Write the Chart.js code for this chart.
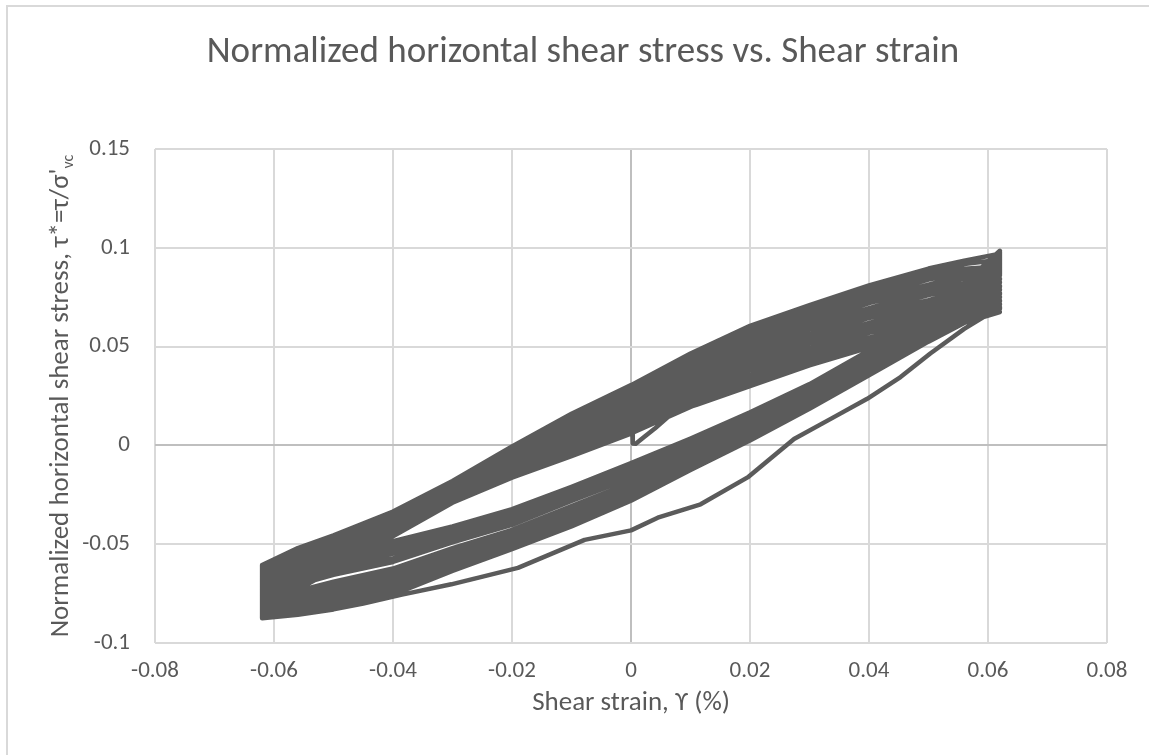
<!DOCTYPE html>
<html>
<head>
<meta charset="utf-8">
<title>Normalized horizontal shear stress vs. Shear strain</title>
<script src="https://cdn.jsdelivr.net/npm/chart.js@4.4.1/dist/chart.umd.min.js"></script>
<style>
  html, body { margin: 0; padding: 0; background: #fff; overflow: hidden; }
  #frame { position: absolute; left: 6px; top: 5px; width: 1200px; height: 800px; border: 2px solid #d9d9d9; }
  #wrap { position: absolute; left: 0; top: 0; width: 1149px; height: 755px; }
</style>
</head>
<body>
<div id="frame"></div>
<div id="wrap"><canvas id="loopChart"></canvas></div>
<script>
// strain stations used by the loading (left -> right) and unloading (right -> left) branches
const strainLoad = [-0.062, -0.056, -0.05, -0.04, -0.03, -0.02, -0.01, 0, 0.01, 0.02, 0.03, 0.04, 0.05, 0.056, 0.062];
const strainUnload = [0.062, 0.056, 0.05, 0.04, 0.03, 0.02, 0.01, 0, -0.01, -0.02, -0.03, -0.04, -0.05, -0.056, -0.062];

// unloading branches, in the order they were recorded
const unloadBranches = [
  [0.0675, 0.0630, 0.0580, 0.0510, 0.0420, 0.0323, 0.0195, 0.0060, -0.0055, -0.0163, -0.0290, -0.0460, -0.0630, -0.0730, -0.0835],
  [0.0690, 0.0650, 0.0598, 0.0531, 0.0437, 0.0342, 0.0211, 0.0077, -0.0043, -0.0152, -0.0285, -0.0451, -0.0621, -0.0716, -0.0820],
  [0.0712, 0.0665, 0.0622, 0.0545, 0.0459, 0.0355, 0.0232, 0.0088, -0.0025, -0.0146, -0.0273, -0.0447, -0.0605, -0.0707, -0.0805],
  [0.0728, 0.0690, 0.0636, 0.0570, 0.0472, 0.0379, 0.0243, 0.0109, -0.0012, -0.0137, -0.0268, -0.0440, -0.0594, -0.0694, -0.0790],
  [0.0749, 0.0709, 0.0656, 0.0588, 0.0490, 0.0397, 0.0260, 0.0124, -0.0004, -0.0121, -0.0266, -0.0426, -0.0589, -0.0675, -0.0775],
  [0.0765, 0.0722, 0.0682, 0.0601, 0.0514, 0.0409, 0.0283, 0.0134, 0.0016, -0.0117, -0.0253, -0.0424, -0.0572, -0.0668, -0.0760],
  [0.0786, 0.0741, 0.0701, 0.0620, 0.0532, 0.0426, 0.0299, 0.0149, 0.0029, -0.0107, -0.0246, -0.0416, -0.0561, -0.0654, -0.0745],
  [0.0802, 0.0767, 0.0715, 0.0645, 0.0544, 0.0450, 0.0310, 0.0171, 0.0037, -0.0097, -0.0240, -0.0409, -0.0551, -0.0641, -0.0733],
  [0.0823, 0.0786, 0.0735, 0.0663, 0.0562, 0.0467, 0.0327, 0.0186, 0.0050, -0.0081, -0.0238, -0.0395, -0.0546, -0.0622, -0.0720],
  [0.0840, 0.0799, 0.0761, 0.0676, 0.0586, 0.0479, 0.0350, 0.0195, 0.0069, -0.0077, -0.0225, -0.0393, -0.0529, -0.0615, -0.0705],
  [0.0860, 0.0818, 0.0780, 0.0695, 0.0604, 0.0496, 0.0367, 0.0210, 0.0082, -0.0067, -0.0218, -0.0385, -0.0518, -0.0602, -0.0690],
  [0.0866, 0.0843, 0.0794, 0.0720, 0.0617, 0.0520, 0.0378, 0.0232, 0.0090, -0.0052, -0.0213, -0.0377, -0.0507, -0.0589, -0.0675],
  [0.0870, 0.0862, 0.0813, 0.0738, 0.0635, 0.0538, 0.0395, 0.0247, 0.0103, -0.0042, -0.0211, -0.0363, -0.0502, -0.0570, -0.0660],
  [0.0890, 0.0875, 0.0839, 0.0751, 0.0659, 0.0550, 0.0418, 0.0256, 0.0123, -0.0038, -0.0198, -0.0361, -0.0485, -0.0563, -0.0645],
  [0.0905, 0.0894, 0.0859, 0.0770, 0.0677, 0.0567, 0.0434, 0.0271, 0.0136, -0.0028, -0.0191, -0.0354, -0.0474, -0.0549, -0.0630],
  [0.0940, 0.0918, 0.0874, 0.0793, 0.0691, 0.0589, 0.0447, 0.0291, 0.0145, -0.0014, -0.0188, -0.0342, -0.0468, -0.0532, -0.0618],
  [0.0970, 0.0935, 0.0895, 0.0810, 0.0710, 0.0605, 0.0465, 0.0305, 0.0160, -0.0005, -0.0180, -0.0335, -0.0455, -0.0520, -0.0605]
];

// reloading branches, each one following unloading branch i+1
const loadBranches = [
  [-0.0875, -0.0855, -0.0825, -0.0755, -0.0635, -0.0525, -0.0410, -0.0280, -0.0125, 0.0025, 0.0185, 0.0355, 0.0525, 0.0620, 0.0715],
  [-0.0860, -0.0838, -0.0813, -0.0734, -0.0626, -0.0508, -0.0402, -0.0262, -0.0120, 0.0039, 0.0189, 0.0368, 0.0530, 0.0637, 0.0734],
  [-0.0845, -0.0826, -0.0795, -0.0718, -0.0610, -0.0496, -0.0388, -0.0250, -0.0108, 0.0047, 0.0198, 0.0374, 0.0540, 0.0648, 0.0752],
  [-0.0830, -0.0811, -0.0776, -0.0704, -0.0594, -0.0486, -0.0373, -0.0243, -0.0095, 0.0053, 0.0209, 0.0379, 0.0553, 0.0658, 0.0771],
  [-0.0815, -0.0790, -0.0762, -0.0684, -0.0583, -0.0470, -0.0364, -0.0229, -0.0088, 0.0064, 0.0213, 0.0390, 0.0560, 0.0673, 0.0789],
  [-0.0800, -0.0775, -0.0745, -0.0668, -0.0569, -0.0458, -0.0351, -0.0218, -0.0078, 0.0076, 0.0218, 0.0401, 0.0570, 0.0686, 0.0808],
  [-0.0785, -0.0766, -0.0722, -0.0657, -0.0548, -0.0452, -0.0331, -0.0212, -0.0062, 0.0081, 0.0229, 0.0405, 0.0586, 0.0692, 0.0826],
  [-0.0773, -0.0748, -0.0709, -0.0637, -0.0537, -0.0437, -0.0322, -0.0197, -0.0055, 0.0093, 0.0234, 0.0416, 0.0590, 0.0711, 0.0845],
  [-0.0760, -0.0736, -0.0690, -0.0623, -0.0520, -0.0427, -0.0307, -0.0188, -0.0042, 0.0099, 0.0245, 0.0421, 0.0600, 0.0723, 0.0863],
  [-0.0730, -0.0705, -0.0655, -0.0590, -0.0491, -0.0402, -0.0281, -0.0164, -0.0022, 0.0117, 0.0260, 0.0437, 0.0618, 0.0748, 0.0900],
  [-0.0715, -0.0690, -0.0639, -0.0572, -0.0477, -0.0390, -0.0269, -0.0153, -0.0012, 0.0123, 0.0271, 0.0442, 0.0634, 0.0755, 0.0919],
  [-0.0700, -0.0668, -0.0629, -0.0548, -0.0469, -0.0371, -0.0263, -0.0135, -0.0008, 0.0135, 0.0276, 0.0452, 0.0644, 0.0767, 0.0937],
  [-0.0685, -0.0653, -0.0613, -0.0532, -0.0455, -0.0358, -0.0251, -0.0123, 0.0002, 0.0144, 0.0284, 0.0463, 0.0648, 0.0786, 0.0956],
  [-0.0670, -0.0643, -0.0590, -0.0522, -0.0435, -0.0351, -0.0232, -0.0117, 0.0018, 0.0146, 0.0297, 0.0467, 0.0658, 0.0798, 0.0974],
  [-0.0658, -0.0630, -0.0572, -0.0507, -0.0420, -0.0340, -0.0218, -0.0107, 0.0024, 0.0160, 0.0301, 0.0477, 0.0666, 0.0812, 0.0980],
  [-0.0645, -0.0610, -0.0560, -0.0485, -0.0410, -0.0323, -0.0210, -0.0090, 0.0035, 0.0167, 0.0310, 0.0480, 0.0680, 0.0820, 0.0985]
];

// first reloading after the initial unloading (the softer branch)
const firstLoadStrain = [-0.062, -0.056, -0.05, -0.045, -0.0385, -0.0302, -0.019, -0.0078, 0, 0.0045, 0.0117, 0.0196, 0.0274, 0.0341, 0.0397, 0.0453, 0.0503, 0.056, 0.062];
const firstLoadStress = [-0.0875, -0.0857, -0.0830, -0.0800, -0.0755, -0.0703, -0.0620, -0.0478, -0.0430, -0.0366, -0.0298, -0.0162, 0.0032, 0.0143, 0.0236, 0.0346, 0.0465, 0.0590, 0.0700];

// start of the test near the origin, up to the first peak
const startStrain = [0.0002, 0.0003, 0.0008, 0.0022, 0.0040, 0.0062, 0.0080, 0.0110, 0.0200, 0.0300, 0.0400, 0.0500, 0.0560, 0.0620];
const startStress = [0.0105, 0.0010, 0.0008, 0.0042, 0.0085, 0.0144, 0.0178, 0.0205, 0.0300, 0.0405, 0.0495, 0.0570, 0.0620, 0.0675];

const xTicks = [-0.08, -0.06, -0.04, -0.02, 0, 0.02, 0.04, 0.06, 0.08];
const xTickLabels = ['-0.08', '-0.06', '-0.04', '-0.02', '0', '0.02', '0.04', '0.06', '0.08'];
const yTicks = [-0.1, -0.05, 0, 0.05, 0.1, 0.15];
const yTickLabels = ['-0.1', '-0.05', '0', '0.05', '0.1', '0.15'];

const FONT = 'Carlito, Calibri, Lato, sans-serif';
const TEXT = '#595959';

function toPoints(xs, ys) {
  return ys.map((y, i) => ({ x: xs[i], y: y }));
}

// one continuous record: start, first unload, first reload, then the remaining cycles
let points = toPoints(startStrain, startStress);
points = points.concat(toPoints(strainUnload, unloadBranches[0]));
points = points.concat(toPoints(firstLoadStrain, firstLoadStress));
for (let i = 1; i < unloadBranches.length; i++) {
  points = points.concat(toPoints(strainUnload, unloadBranches[i]));
  points = points.concat(toPoints(strainLoad, loadBranches[i - 1]));
}

// titles, including the subscript on the vertical axis title
const axisText = {
  id: 'axisText',
  afterDraw(chart) {
    const ctx = chart.ctx;
    const area = chart.chartArea;
    ctx.save();
    ctx.fillStyle = TEXT;
    ctx.textBaseline = 'alphabetic';

    ctx.textAlign = 'center';
    ctx.font = '37px ' + FONT;
    ctx.fillText('Normalized horizontal shear stress vs. Shear strain', 583, 62);

    ctx.font = '27px ' + FONT;
    ctx.fillText('Shear strain, \u03d2 (%)', (area.left + area.right) / 2, 710);

    const main = 'Normalized horizontal shear stress, \u03c4*=\u03c4/\u03c3\'';
    const sub = 'vc';
    ctx.font = '27px ' + FONT;
    const wMain = ctx.measureText(main).width;
    ctx.font = '16px ' + FONT;
    const wSub = ctx.measureText(sub).width;
    ctx.translate(68, (area.top + area.bottom) / 2);
    ctx.rotate(-Math.PI / 2);
    ctx.textAlign = 'left';
    const x0 = -(wMain + wSub) / 2;
    ctx.font = '27px ' + FONT;
    ctx.fillText(main, x0, 0);
    ctx.font = '16px ' + FONT;
    ctx.fillText(sub, x0 + wMain, 5);
    ctx.restore();
  }
};

const gridColor = c => (c.tick && c.tick.value === 0 ? '#bfbfbf' : '#d9d9d9');

new Chart(document.getElementById('loopChart'), {
  type: 'scatter',
  data: {
    datasets: [{
      data: points,
      showLine: true,
      borderColor: '#5b5b5b',
      borderWidth: 4.5,
      borderJoinStyle: 'round',
      borderCapStyle: 'round',
      pointRadius: 0,
      pointHoverRadius: 0,
      tension: 0,
      fill: false
    }]
  },
  options: {
    responsive: true,
    maintainAspectRatio: false,
    animation: false,
    events: [],
    layout: { padding: { top: 149, right: 42, bottom: 0, left: 0 } },
    plugins: {
      legend: { display: false },
      tooltip: { enabled: false },
      title: { display: false }
    },
    scales: {
      x: {
        type: 'linear',
        min: -0.08,
        max: 0.08,
        afterBuildTicks: s => { s.ticks = xTicks.map(v => ({ value: v })); },
        afterFit: s => { s.height = 112; },
        ticks: {
          callback: (v, i) => xTickLabels[i],
          color: TEXT,
          font: { family: FONT, size: 23 },
          padding: 14,
          maxRotation: 0,
          autoSkip: false
        },
        grid: { color: gridColor, lineWidth: 2, drawTicks: false },
        border: { display: false }
      },
      y: {
        type: 'linear',
        min: -0.1,
        max: 0.15,
        afterBuildTicks: s => { s.ticks = yTicks.map(v => ({ value: v })); },
        afterFit: s => { s.width = 155; },
        ticks: {
          callback: (v, i) => yTickLabels[i],
          color: TEXT,
          font: { family: FONT, size: 23 },
          padding: 25,
          autoSkip: false
        },
        grid: { color: gridColor, lineWidth: 2, drawTicks: false },
        border: { display: false }
      }
    }
  },
  plugins: [axisText]
});
</script>
</body>
</html>
